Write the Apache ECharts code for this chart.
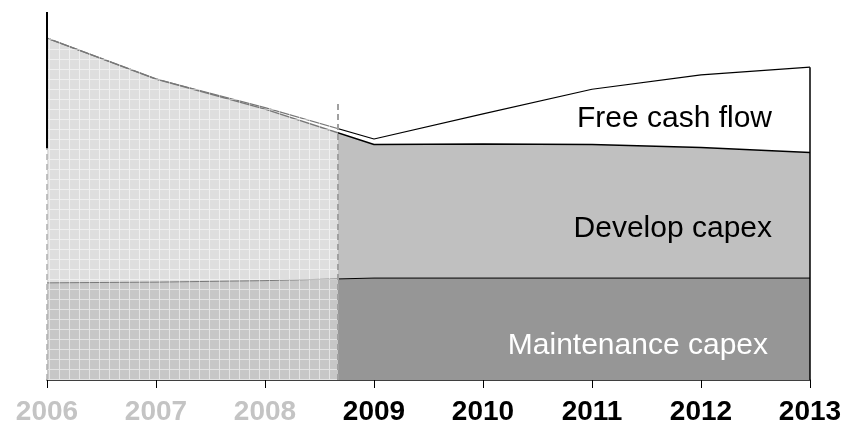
<!DOCTYPE html>
<html>
<head>
<meta charset="utf-8">
<script src="https://cdn.jsdelivr.net/npm/echarts@6/dist/echarts.min.js"></script>
<style>
  html, body { margin: 0; padding: 0; background: #fff; }
  #chart { width: 845px; height: 427px; }
</style>
</head>
<body>
<div id="chart"></div>
<script>
  // values, in plot units (0..100 = axis..top)
  const years = [2006, 2007, 2008, 2009, 2010, 2011, 2012, 2013];
  const maintenanceCapex = [26.4, 26.6, 27.0, 27.7, 27.7, 27.7, 27.7, 27.7];
  const developCapex = [66.5, 55.2, 46.6, 36.3, 36.4, 36.3, 35.5, 34.1];
  const freeCashFlow = [0, 0, 0.4, 1.5, 8.2, 15.0, 19.7, 23.2];
  const forecastStart = 2008.67; // end of the hatched "actual" block
  const hatchedYears = [2006, 2007, 2008];

  const FONT = '"Liberation Sans", Arial, sans-serif';

  // hatched overlay: washed-out white with a soft white grid
  function makeHatch() {
    const c = document.createElement('canvas');
    c.width = 10;
    c.height = 10;
    const ctx = c.getContext('2d');
    ctx.fillStyle = 'rgba(255,255,255,0.47)';
    ctx.fillRect(0, 0, 10, 10);
    ctx.fillStyle = 'rgba(255,255,255,0.5)';
    ctx.fillRect(0, 9, 10, 1);
    ctx.fillRect(9, 0, 1, 9);
    return c;
  }

  // value first so the stack runs on y (x is a value axis too)
  const toPoints = (arr) => years.map((y, i) => [arr[i], y]);
  const lastTotal =
    maintenanceCapex[years.length - 1] +
    developCapex[years.length - 1] +
    freeCashFlow[years.length - 1];

  const chart = echarts.init(document.getElementById('chart'));
  chart.setOption({
    animation: false,
    grid: { left: 47, right: 35, top: 12, bottom: 47 },
    xAxis: {
      type: 'value',
      min: 2006,
      max: 2013,
      interval: 1,
      splitLine: { show: false },
      axisLine: { lineStyle: { color: '#000', width: 1.5 } },
      axisTick: { length: 8, lineStyle: { color: '#000' } },
      axisLabel: {
        margin: 18,
        fontFamily: FONT,
        fontSize: 28,
        fontWeight: 'bold',
        formatter: (v) => String(v),
        color: (v) => (hatchedYears.indexOf(Number(v)) >= 0 ? '#c4c4c4' : '#000')
      }
    },
    yAxis: {
      type: 'value',
      min: 0,
      max: 100,
      axisLine: { show: false },
      axisTick: { show: false },
      axisLabel: { show: false },
      splitLine: { show: false }
    },
    graphic: [
      {
        type: 'text',
        style: { text: 'Free cash flow', x: 772, y: 119, fill: '#000', font: '30px ' + FONT, textAlign: 'right', align: 'right', textVerticalAlign: 'middle', verticalAlign: 'middle' },
        z: 20
      },
      {
        type: 'text',
        style: { text: 'Develop capex', x: 772, y: 229, fill: '#000', font: '30px ' + FONT, textAlign: 'right', align: 'right', textVerticalAlign: 'middle', verticalAlign: 'middle' },
        z: 20
      },
      {
        type: 'text',
        style: { text: 'Maintenance capex', x: 768, y: 346, fill: '#fff', font: '30px ' + FONT, textAlign: 'right', align: 'right', textVerticalAlign: 'middle', verticalAlign: 'middle' },
        z: 20
      }
    ],
    series: [
      {
        name: 'Maintenance capex',
        type: 'line',
        stack: 'cash',
        encode: { x: 1, y: 0 },
        data: toPoints(maintenanceCapex),
        symbol: 'none',
        lineStyle: { color: '#000', width: 1 },
        areaStyle: { color: '#969696', opacity: 1 }
      },
      {
        name: 'Develop capex',
        type: 'line',
        stack: 'cash',
        encode: { x: 1, y: 0 },
        data: toPoints(developCapex),
        symbol: 'none',
        lineStyle: { color: '#000', width: 1.5 },
        areaStyle: { color: '#c0c0c0', opacity: 1 }
      },
      {
        name: 'Free cash flow',
        type: 'line',
        stack: 'cash',
        encode: { x: 1, y: 0 },
        data: toPoints(freeCashFlow),
        symbol: 'none',
        lineStyle: { color: '#000', width: 1.2 },
        areaStyle: { color: '#fff', opacity: 1 },
        markArea: {
          silent: true,
          z: 10,
          itemStyle: { color: { image: makeHatch(), repeat: 'repeat' } },
          data: [[{ xAxis: 2006, yAxis: 0 }, { xAxis: forecastStart, yAxis: 100 }]]
        },
        markLine: {
          silent: true,
          z: 12,
          symbol: 'none',
          label: { show: false },
          data: [
            // dashed divider between actuals and forecast
            [
              { coord: [forecastStart, 0], lineStyle: { color: '#a0a0a0', type: [6, 4], width: 2 } },
              { coord: [forecastStart, 75.5] }
            ],
            // left edge, dashed under the wash, solid above
            [
              { coord: [2006, 0], lineStyle: { color: '#b0b0b0', type: [6, 4], width: 1.5 } },
              { coord: [2006, 63] }
            ],
            [
              { coord: [2006, 63], lineStyle: { color: '#000', type: 'solid', width: 2 } },
              { coord: [2006, 100] }
            ],
            // right edge of the stacked area
            [
              { coord: [2013, 0], lineStyle: { color: '#000', type: 'solid', width: 1.5 } },
              { coord: [2013, lastTotal] }
            ]
          ]
        }
      }
    ]
  });
</script>
</body>
</html>
